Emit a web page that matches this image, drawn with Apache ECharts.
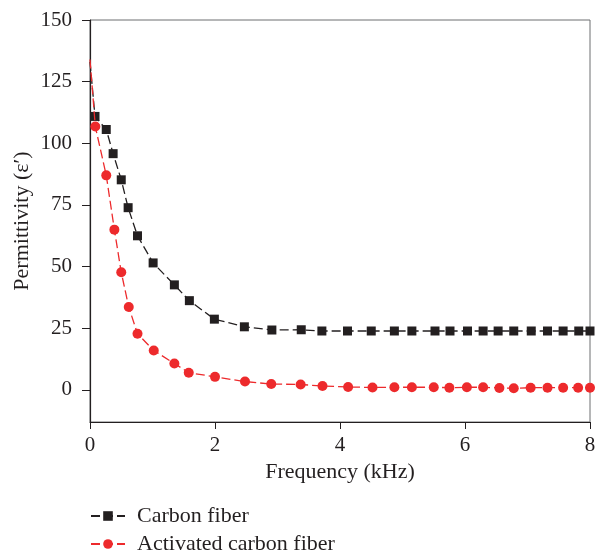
<!DOCTYPE html>
<html>
	<head>
		<meta charset="UTF-8">
		<title></title>
		<style>
			html, body { margin: 0; padding: 0; background: #fff; }
			#main { width: 596px; height: 552px; }
		</style>
	</head>
	<body>
		<div id="main"></div>
	</body>
	<script type="text/javascript" src="https://cdn.jsdelivr.net/npm/echarts@6/dist/echarts.min.js"></script>
	<script type="text/javascript">
		// frequency (kHz) and permittivity
		var cfFreq = [0, 0.08, 0.26, 0.37, 0.50, 0.61, 0.76, 1.01, 1.35, 1.59, 1.99, 2.47, 2.91, 3.38, 3.71, 4.12, 4.50, 4.87, 5.15, 5.52, 5.76, 6.04, 6.29, 6.53, 6.78, 7.06, 7.32, 7.57, 7.82, 8.0];
		var cfVal = [133, 110.9, 105.6, 95.8, 85.2, 73.9, 62.5, 51.5, 42.6, 36.2, 28.7, 25.6, 24.3, 24.4, 23.9, 23.9, 23.9, 23.9, 23.9, 23.9, 23.9, 23.9, 23.9, 23.9, 23.9, 23.9, 23.9, 23.9, 23.9, 23.9];
		var acfFreq = [0, 0.085, 0.26, 0.39, 0.50, 0.62, 0.76, 1.02, 1.35, 1.58, 2.0, 2.48, 2.90, 3.37, 3.72, 4.13, 4.52, 4.87, 5.15, 5.50, 5.75, 6.03, 6.29, 6.55, 6.78, 7.05, 7.32, 7.57, 7.81, 8.0];
		var acfVal = [134, 106.8, 87.0, 65.0, 47.7, 33.6, 22.8, 16.0, 10.7, 7.0, 5.3, 3.4, 2.4, 2.2, 1.6, 1.2, 1.0, 1.1, 1.1, 1.1, 0.9, 1.1, 1.1, 0.8, 0.7, 0.9, 0.9, 0.9, 0.9, 0.9];
		var yTicks = [0, 25, 50, 75, 100, 125, 150];

		// the curves start at f = 0 without a marker
		function pairs(xs, ys) {
			var out = [];
			for (var i = 0; i < xs.length; i++) {
				if (i === 0) {
					out.push({ value: [xs[i], ys[i]], symbol: 'none' });
				} else {
					out.push([xs[i], ys[i]]);
				}
			}
			return out;
		}

		var txt = '#231f20';
		var red = '#ed2a2c';
		var font = 'Liberation Serif';
		var legendBase = {
			orient: 'vertical',
			left: 90,
			padding: 0,
			itemWidth: 34,
			itemHeight: 12,
			textStyle: { fontFamily: font, fontSize: 22, color: txt, padding: [0, 0, 0, 7] }
		};
		var myChart = echarts.init(document.getElementById('main'));
		var option = {
			animation: false,
			textStyle: { fontFamily: font, color: txt },
			grid: {
				left: 90,
				top: 20,
				width: 500,
				height: 402,
				outerBoundsMode: 'none',
				show: true,
				borderColor: '#6d6e71',
				borderWidth: 1
			},
			legend: [
				Object.assign({}, legendBase, { top: 505, data: ['Carbon fiber'] }),
				Object.assign({}, legendBase, { top: 533, data: ['Activated carbon fiber'] })
			],
			xAxis: {
				type: 'value',
				min: 0,
				max: 8,
				interval: 2,
				name: 'Frequency (kHz)',
				nameLocation: 'middle',
				nameGap: 31,
				nameTextStyle: { fontFamily: font, fontSize: 22, color: txt },
				axisLine: { onZero: false, lineStyle: { color: txt, width: 1.2 } },
				axisTick: { show: true, length: 7, lineStyle: { color: txt } },
				axisLabel: { margin: 13, fontFamily: font, fontSize: 21, color: txt },
				splitLine: { show: false }
			},
			yAxis: {
				type: 'value',
				min: -13,
				max: 150,
				name: 'Permittivity (\u03b5\u2032)',
				nameLocation: 'middle',
				nameGap: 57,
				nameMoveOverlap: false,
				nameTextStyle: { fontFamily: font, fontSize: 22, color: txt },
				axisLine: { onZero: false, lineStyle: { color: txt, width: 1.2 } },
				axisTick: { show: true, length: 8, customValues: yTicks, lineStyle: { color: txt } },
				axisLabel: { margin: 18, customValues: yTicks, fontFamily: font, fontSize: 21, color: txt },
				splitLine: { show: false }
			},
			series: [{
				name: 'Carbon fiber',
				type: 'line',
				data: pairs(cfFreq, cfVal),
				symbol: 'rect',
				symbolSize: 9,
				color: txt,
				lineStyle: { width: 1.3, type: [9, 4] },
				itemStyle: { color: txt },
				z: 2
			}, {
				name: 'Activated carbon fiber',
				type: 'line',
				data: pairs(acfFreq, acfVal),
				symbol: 'circle',
				symbolSize: 10,
				color: red,
				lineStyle: { width: 1.3, type: [9, 4] },
				itemStyle: { color: red },
				z: 3
			}]
		};
		myChart.setOption(option);
	</script>
</html>
